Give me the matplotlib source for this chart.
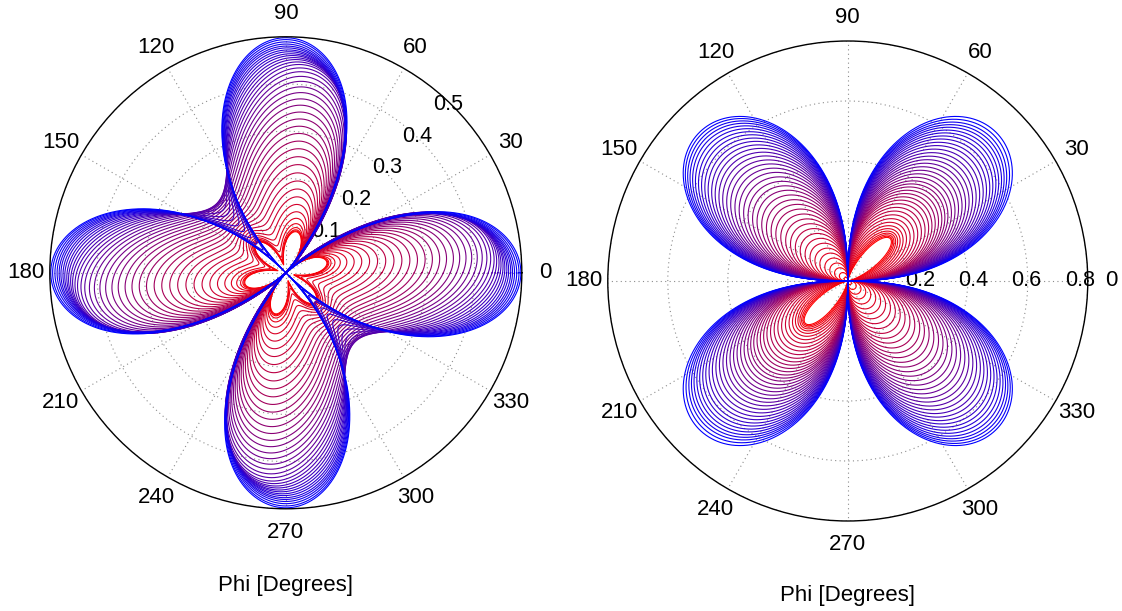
import numpy as np
import matplotlib
matplotlib.use("Agg")
import matplotlib.pyplot as plt

plt.rcParams['font.family'] = ['Liberation Sans', 'DejaVu Sans']

# ---------------- data ----------------
# Left panel: amplitude of the four-lobe term and of the six-petal term, one entry per curve
A_left = [0.020, 0.024, 0.030, 0.040, 0.055, 0.072, 0.090, 0.108, 0.126, 0.144,
          0.162, 0.180, 0.198, 0.215, 0.232, 0.248, 0.264, 0.279, 0.294, 0.308,
          0.322, 0.335, 0.348, 0.360, 0.372, 0.383, 0.394, 0.404, 0.414, 0.423,
          0.432, 0.440, 0.448, 0.455, 0.462, 0.468, 0.474, 0.479, 0.484, 0.489,
          0.494, 0.498]
B_left = [0.088, 0.089, 0.090, 0.092, 0.095, 0.099, 0.104, 0.110, 0.116, 0.122,
          0.128, 0.134, 0.140, 0.146, 0.152, 0.158, 0.164, 0.170, 0.176, 0.182,
          0.188, 0.193, 0.198, 0.202, 0.205, 0.207, 0.207, 0.204, 0.198, 0.188,
          0.175, 0.160, 0.143, 0.125, 0.106, 0.087, 0.068, 0.050, 0.034, 0.020,
          0.008, 0.000]

# Right panel: lobe length and sharpness along 45/225 deg (a) and 135/315 deg (b)
a_right = [0.200, 0.204, 0.209, 0.215, 0.222, 0.231, 0.242, 0.255, 0.269, 0.284,
           0.299, 0.314, 0.329, 0.344, 0.358, 0.372, 0.386, 0.400, 0.413, 0.426,
           0.441, 0.456, 0.471, 0.486, 0.501, 0.516, 0.531, 0.546, 0.561, 0.576,
           0.590, 0.604, 0.617, 0.630, 0.642, 0.654, 0.665, 0.676, 0.688, 0.700]
pa_right = [4.0, 3.2, 2.6, 2.1, 1.7, 1.4, 1.2, 1.05, 0.94, 0.86,
            0.81, 0.78, 0.76, 0.75, 0.75, 0.75, 0.75, 0.75, 0.75, 0.75,
            0.75, 0.75, 0.75, 0.75, 0.75, 0.75, 0.75, 0.75, 0.75, 0.75,
            0.75, 0.75, 0.75, 0.75, 0.75, 0.75, 0.75, 0.75, 0.75, 0.75]
b_right = [0.015, 0.035, 0.055, 0.075, 0.096, 0.117, 0.138, 0.159, 0.180, 0.201,
           0.222, 0.243, 0.264, 0.285, 0.306, 0.326, 0.346, 0.366, 0.386, 0.405,
           0.424, 0.443, 0.462, 0.480, 0.498, 0.515, 0.532, 0.548, 0.564, 0.579,
           0.594, 0.608, 0.622, 0.635, 0.648, 0.660, 0.671, 0.681, 0.691, 0.700]
pb_right = [0.50, 0.52, 0.54, 0.56, 0.58, 0.60, 0.62, 0.64, 0.66, 0.68,
            0.70, 0.72, 0.74, 0.75, 0.75, 0.75, 0.75, 0.75, 0.75, 0.75,
            0.75, 0.75, 0.75, 0.75, 0.75, 0.75, 0.75, 0.75, 0.75, 0.75,
            0.75, 0.75, 0.75, 0.75, 0.75, 0.75, 0.75, 0.75, 0.75, 0.75]

angle_ticks = list(range(0, 360, 30))
left_rticks = [0.1, 0.2, 0.3, 0.4, 0.5]
right_rticks = [0.2, 0.4, 0.6, 0.8]
axis_label = 'Phi [Degrees]'

phi = np.linspace(0.0, 2.0 * np.pi, 2881)


def left_curve(A, B):
    s2 = np.sin(2.0 * phi)
    notch = 0.22 * np.clip(s2, 0, None) ** 6
    four = np.clip(np.abs(np.cos(2.0 * phi)) - notch, 0, None)
    six = np.abs(np.cos(3.0 * phi - np.pi / 4.0))
    return np.sqrt((A * four) ** 2 + (B * six) ** 2)


def right_curve(a, pa, b, pb):
    s2 = np.sin(2.0 * phi)
    s = np.abs(s2)
    return np.where(s2 >= 0, a * s ** pa, b * s ** pb)


def red_to_blue(i, n):
    t = i / (n - 1)
    return (1.0 - t, 0.0, t)


def style_polar(ax, rmax, rticks):
    ax.set_ylim(0, rmax)
    ax.set_yticks(rticks)
    ax.set_yticklabels([])
    ax.set_xticks(np.deg2rad(angle_ticks))
    ax.set_xticklabels([])
    ax.tick_params(length=0, pad=0)
    ax.grid(True, color='#8c8c8c', linestyle=(0, (1, 3)), linewidth=0.8)
    ax.set_axisbelow(True)
    ax.spines['polar'].set_linewidth(1.0)
    ax.spines['polar'].set_color('black')
    for d in angle_ticks:
        ax.text(np.deg2rad(d), 1.1 * rmax, str(d), ha='center', va='center',
                fontsize=16, clip_on=False)


fig = plt.figure(figsize=(11.22, 6.11), dpi=100)

# left panel
axL = fig.add_axes([0.04439, 0.1673, 0.4207, 0.7725], projection='polar')
style_polar(axL, 0.5, left_rticks)
for v in left_rticks:
    axL.text(np.deg2rad(46), 0.03 + 0.93 * v, f'{v:g}', ha='center', va='center',
             fontsize=15.5, zorder=1.5)
nL = len(A_left)
for i in range(nL):
    axL.plot(phi, left_curve(A_left[i], B_left[i]), color=red_to_blue(i, nL),
             lw=0.8, zorder=2)
fig.text(286 / 1122, 1 - 585 / 611, axis_label, ha='center', va='center', fontsize=16)

# right panel
axR = fig.add_axes([0.5417, 0.1473, 0.4278, 0.7856], projection='polar')
style_polar(axR, 0.8, right_rticks)
for v in right_rticks:
    axR.text(0.0, 0.065 + 0.885 * v, f'{v:g}', ha='center', va='center',
             fontsize=15.5, zorder=1.5)
nR = len(a_right)
for i in range(nR):
    axR.plot(phi, right_curve(a_right[i], pa_right[i], b_right[i], pb_right[i]),
             color=red_to_blue(i, nR), lw=0.8, zorder=2)
fig.text(848 / 1122, 1 - 595 / 611, axis_label, ha='center', va='center', fontsize=16)

fig.savefig('out.png', dpi=100)
